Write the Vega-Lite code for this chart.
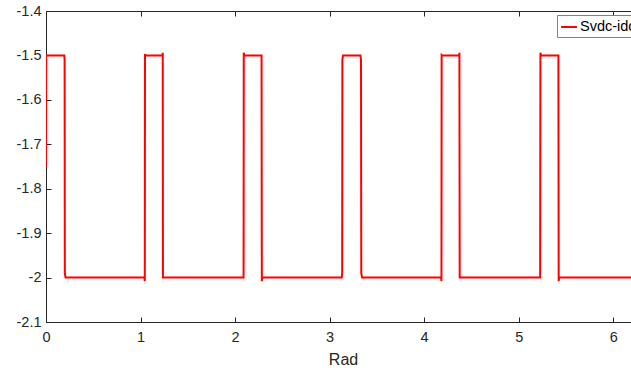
{
  "$schema": "https://vega.github.io/schema/vega-lite/v6.json",
  "width": 594,
  "height": 311,
  "autosize": {"type": "none"},
  "padding": {"left": 46, "top": 11, "right": 0, "bottom": 49},
  "background": "white",
  "config": {
    "view": {"stroke": null},
    "font": "Liberation Sans",
    "axis": {
      "domainColor": "#262626",
      "tickColor": "#262626",
      "labelColor": "#262626",
      "titleColor": "#262626",
      "labelFont": "Liberation Sans",
      "titleFont": "Liberation Sans",
      "labelFontSize": 14.5,
      "titleFontSize": 16,
      "titleFontWeight": "normal",
      "grid": false,
      "tickSize": -5,
      "domainWidth": 1,
      "labelFlush": false
    }
  },
  "data": {"values": [
    {"rad": 0.0, "v": -1.75, "s": "Svdc-idc"},
    {"rad": 0.002, "v": -1.5, "s": "Svdc-idc"},
    {"rad": 0.194, "v": -1.5, "s": "Svdc-idc"},
    {"rad": 0.197, "v": -1.51, "s": "Svdc-idc"},
    {"rad": 0.199, "v": -1.99, "s": "Svdc-idc"},
    {"rad": 0.207, "v": -2.0, "s": "Svdc-idc"},
    {"rad": 1.042, "v": -2.0, "s": "Svdc-idc"},
    {"rad": 1.045, "v": -2.008, "s": "Svdc-idc"},
    {"rad": 1.047, "v": -1.497, "s": "Svdc-idc"},
    {"rad": 1.052, "v": -1.5, "s": "Svdc-idc"},
    {"rad": 1.232, "v": -1.5, "s": "Svdc-idc"},
    {"rad": 1.235, "v": -1.494, "s": "Svdc-idc"},
    {"rad": 1.237, "v": -2.0, "s": "Svdc-idc"},
    {"rad": 1.242, "v": -2.0, "s": "Svdc-idc"},
    {"rad": 2.09, "v": -2.0, "s": "Svdc-idc"},
    {"rad": 2.092, "v": -1.494, "s": "Svdc-idc"},
    {"rad": 2.097, "v": -1.5, "s": "Svdc-idc"},
    {"rad": 2.28, "v": -1.5, "s": "Svdc-idc"},
    {"rad": 2.283, "v": -2.008, "s": "Svdc-idc"},
    {"rad": 2.288, "v": -2.0, "s": "Svdc-idc"},
    {"rad": 3.128, "v": -2.0, "s": "Svdc-idc"},
    {"rad": 3.133, "v": -1.99, "s": "Svdc-idc"},
    {"rad": 3.135, "v": -1.51, "s": "Svdc-idc"},
    {"rad": 3.142, "v": -1.5, "s": "Svdc-idc"},
    {"rad": 3.326, "v": -1.5, "s": "Svdc-idc"},
    {"rad": 3.332, "v": -1.51, "s": "Svdc-idc"},
    {"rad": 3.335, "v": -1.99, "s": "Svdc-idc"},
    {"rad": 3.343, "v": -2.0, "s": "Svdc-idc"},
    {"rad": 4.18, "v": -2.0, "s": "Svdc-idc"},
    {"rad": 4.183, "v": -2.008, "s": "Svdc-idc"},
    {"rad": 4.185, "v": -1.499, "s": "Svdc-idc"},
    {"rad": 4.19, "v": -1.5, "s": "Svdc-idc"},
    {"rad": 4.37, "v": -1.5, "s": "Svdc-idc"},
    {"rad": 4.373, "v": -1.494, "s": "Svdc-idc"},
    {"rad": 4.376, "v": -2.0, "s": "Svdc-idc"},
    {"rad": 5.227, "v": -2.0, "s": "Svdc-idc"},
    {"rad": 5.23, "v": -1.494, "s": "Svdc-idc"},
    {"rad": 5.235, "v": -1.5, "s": "Svdc-idc"},
    {"rad": 5.42, "v": -1.5, "s": "Svdc-idc"},
    {"rad": 5.423, "v": -2.008, "s": "Svdc-idc"},
    {"rad": 5.428, "v": -2.0, "s": "Svdc-idc"},
    {"rad": 6.2832, "v": -2.0, "s": "Svdc-idc"}
  ]},
  "layer": [
    {
      "mark": {"type": "line", "strokeWidth": 2, "clip": true, "interpolate": "linear"},
      "encoding": {
        "x": {
          "field": "rad", "type": "quantitative",
          "scale": {"domain": [0, 6.2832], "nice": false, "zero": false},
          "axis": {"orient": "bottom", "values": [0, 1, 2, 3, 4, 5, 6], "format": "d", "title": "Rad", "labelPadding": 13, "titlePadding": 8}
        },
        "y": {
          "field": "v", "type": "quantitative",
          "scale": {"domain": [-2.1, -1.4], "nice": false, "zero": false},
          "axis": {"values": [-2.1, -2, -1.9, -1.8, -1.7, -1.6, -1.5, -1.4], "labelExpr": "replace(format(datum.value, '.2~f'), '\u2212', '-')", "title": null, "labelPadding": 10}
        },
        "color": {
          "field": "s", "type": "nominal",
          "scale": {"range": ["#ff0000"]},
          "legend": {
            "title": null,
            "orient": "none",
            "legendX": 511,
            "legendY": 4,
            "symbolType": "stroke",
            "symbolStrokeWidth": 2,
            "symbolSize": 250,
            "labelFont": "Liberation Sans",
            "labelFontSize": 14.5,
            "labelColor": "#000000",
            "strokeColor": "#7f7f7f",
            "fillColor": "white",
            "padding": 3,
            "labelOffset": 2
          }
        }
      }
    },
    {
      "mark": {"type": "rule", "opacity": 0},
      "encoding": {
        "x": {
          "field": "rad", "type": "quantitative",
          "axis": {"orient": "top", "values": [0, 1, 2, 3, 4, 5, 6], "labels": false, "title": null}
        }
      }
    }
  ],
  "resolve": {"axis": {"x": "independent"}}
}
